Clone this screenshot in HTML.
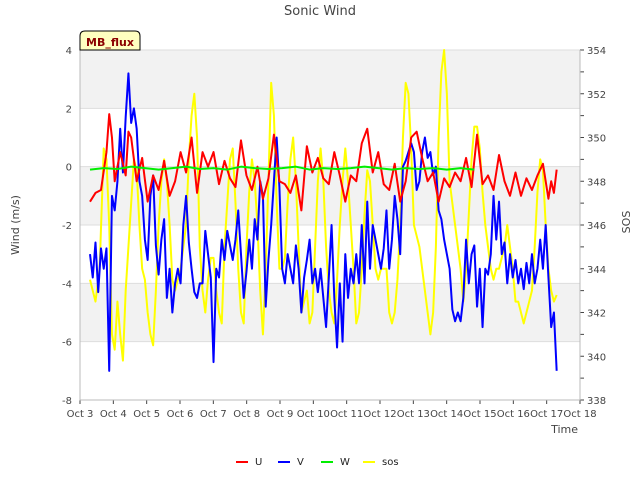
<!DOCTYPE html>
<html><head><meta charset="utf-8"><style>
body{margin:0;background:#fff;font-family:"Liberation Sans","DejaVu Sans",sans-serif}
svg text{font-family:"DejaVu Sans","Liberation Sans",sans-serif}
</style></head><body>
<svg id="c" width="640" height="480">
<rect x="0" y="0" width="640" height="480" fill="#fff"/>
<g id="bands"></g><g id="grid"></g>
<g id="series"></g><g id="axes"></g>
<text x="320" y="15" text-anchor="middle" font-size="13" fill="#444">Sonic Wind</text>
<text transform="translate(19,225) rotate(-90)" text-anchor="middle" font-size="11" fill="#444">Wind (m/s)</text>
<text transform="translate(630,222) rotate(-90)" text-anchor="middle" font-size="11" fill="#444">SOS</text>
<text x="578" y="433" text-anchor="end" font-size="11" fill="#444">Time</text>
<g>
<path d="M80,50 L80,36 Q80,31 85,31 L135,31 Q140,31 140,36 L140,50 Z" fill="#ffffc0" stroke="#000" stroke-width="1"/>
<text x="110" y="46" text-anchor="middle" font-size="11" font-weight="bold" fill="#8b0000">MB_flux</text></g>
<g id="legend"></g>
</svg>
<script>
// times are given in "sample-days" (0.3..17.3) and rescaled onto the real span Oct 3.3..Oct 17.3
const tU=[0.3,0.5,0.7,0.9,1.0,1.1,1.2,1.4,1.6,1.7,1.8,2.0,2.2,2.4,2.6,2.8,3.0,3.2,3.4,3.6,3.8,4.0,4.2,4.4,4.6,4.8,5.0,5.2,5.4,5.6,5.8,6.0,6.2,6.4,6.6,6.8,7.0,7.2,7.4,7.6,7.8,8.0,8.2,8.4,8.6,8.8,9.0,9.2,9.4,9.6,9.8,10.0,10.2,10.4,10.6,10.8,11.0,11.2,11.4,11.6,11.8,12.0,12.2,12.4,12.6,12.8,13.0,13.2,13.4,13.6,13.8,14.0,14.2,14.4,14.6,14.8,15.0,15.2,15.4,15.6,15.8,16.0,16.2,16.4,16.6,16.8,17.0,17.1,17.2,17.3];
const U=[-1.2,-0.9,-0.8,0.5,1.8,1.0,-0.5,0.5,-0.3,1.2,1.0,-0.5,0.3,-1.2,-0.3,-0.8,0.2,-1.0,-0.5,0.5,-0.2,1.0,-0.9,0.5,0.0,0.5,-0.6,0.2,-0.4,-0.7,0.9,-0.3,-0.8,0.0,-1.1,-0.4,1.1,-0.5,-0.6,-0.9,-0.3,-1.5,0.7,-0.2,0.3,-0.4,-0.6,0.5,-0.3,-1.2,-0.3,-0.5,0.8,1.3,-0.2,0.5,-0.6,-0.8,0.1,-1.2,-0.5,1.0,1.2,0.3,-0.5,-0.2,-1.2,-0.4,-0.7,-0.2,-0.5,0.3,-0.7,1.1,-0.6,-0.3,-0.8,0.4,-0.5,-1.0,-0.2,-1.0,-0.4,-0.8,-0.3,0.1,-1.1,-0.5,-0.9,-0.1];
const V=[-3.0,-3.8,-2.6,-4.3,-2.8,-3.5,-2.8,-7.0,-1.0,-1.5,
-0.5,1.3,-0.2,1.7,3.2,1.5,2.0,1.3,-0.5,-1.0,
-2.5,-3.2,-1.0,-0.3,-2.7,-3.7,-2.5,-1.8,-4.5,-3.5,
-5.0,-4.0,-3.5,-4.0,-2.0,-1.0,-2.6,-3.5,-4.3,-4.5,
-4.0,-4.0,-2.2,-3.0,-3.8,-6.7,-3.5,-3.8,-2.5,-3.2,
-2.2,-2.7,-3.2,-2.5,-1.5,-3.0,-4.5,-3.6,-2.5,-3.5,
-1.8,-2.5,-0.5,-1.0,-4.8,-3.2,-2.0,-0.5,1.0,-0.7,
-3.5,-4.0,-3.0,-3.5,-4.0,-2.7,-3.5,-5.0,-3.8,-3.2,
-2.5,-4.0,-3.5,-4.3,-3.5,-4.5,-5.5,-3.8,-2.0,-4.5,
-6.2,-4.0,-6.0,-3.0,-4.5,-3.5,-4.0,-3.0,-4.0,-2.0,
-4.0,-1.2,-3.5,-2.0,-2.5,-3.0,-3.5,-2.8,-1.5,-3.5,
-2.5,-1.0,-1.8,-3.0,0.0,0.2,0.5,0.8,0.5,-0.8,
-0.5,0.5,1.0,0.3,0.5,-0.3,0.0,-1.5,-1.8,-2.5,
-3.0,-3.5,-4.9,-5.3,-5.0,-5.3,-4.5,-2.5,-4.0,-3.0,
-2.7,-4.8,-3.5,-5.5,-3.5,-3.7,-3.0,-1.0,-2.5,-1.2,
-3.0,-2.6,-4.0,-3.0,-3.8,-3.2,-4.0,-3.5,-4.2,-3.3,
-4.0,-3.0,-4.0,-3.5,-2.5,-3.5,-2.0,-3.8,-5.5,-5.0,-7.0];
const tV=V.map((_,i)=>0.3+i*0.1);
const SOS=[343.5,342.5,344,349.5,349,
346,341,340.3,342.5,341,339.8,343,345,347,349,
348.5,346,344,343.5,342,341,340.5,343,346,348,
349,348,346,343.5,343,343.5,344,345,346,349,
351,352,350,345,343,342,343.5,344.5,344.5,343,
342,341.5,345,347,349,349.5,347,344,342,341.5,
345,347.5,349,348,346,343,341,344,348,352.5,
351,347,344,344,344.5,347,349,350,348,345,
342,342.5,343,341.5,342,345,348,349.5,348,345,
343,342,341.5,343.5,346,348,349.5,348,346,344,
341.5,342,344,346.5,348.5,348,346,344,343.5,344,
344,344,342,341.5,342,343.5,346,350,352.5,352,
349.5,346,345.5,345,344,343,342,341,342,345,
350,353,354,352,348,347,346,345,344,342.5,
344,346.5,349,350.5,350.5,349.5,347.5,346,345,344,
343.5,344,344,344.5,345,346,345,344,342.5,342.5,
342,341.5,342,342.5,343,345,347.5,349,348.5,346,
344,343,342.5,342.8];
const tS=[0.3,0.5,0.65,0.8,0.9].concat(SOS.slice(5).map((_,i)=>1.0+i*0.1));
const W=[-0.1,-0.05,-0.08,0.0,-0.05,-0.1,-0.05,0.0,-0.08,-0.05,-0.1,0.0,-0.05,-0.08,-0.05,0.0,-0.1,-0.05,-0.08,-0.05,0.0,-0.05,-0.1,-0.05,-0.08,-0.05,-0.1,-0.05,-0.1];
const tW=W.map((_,i)=>0.3+i*0.5);
const xTicks=["Oct 3","Oct 4","Oct 5","Oct 6","Oct 7","Oct 8","Oct 9","Oct 10","Oct 11","Oct 12","Oct 13","Oct 14","Oct 15","Oct 16","Oct 17","Oct 18"];
const yTicks=[-8,-6,-4,-2,0,2,4];
const y2Ticks=[338,340,342,344,346,348,350,352,354];

const L=80,R=580,T=50,B=400,NS="http://www.w3.org/2000/svg";
const day=t=>0.3+(t-0.3)*14/17;
const xs=d=>L+d*(R-L)/15, ys=v=>T+(4-v)*(B-T)/12, ys2=v=>T+(354-v)*(B-T)/16;
function mk(tag,at,parent){const e=document.createElementNS(NS,tag);for(const k in at)e.setAttribute(k,at[k]);document.getElementById(parent).appendChild(e);return e;}
for(let i=0;i<6;i++){if(i%2===0){const r=mk('rect',{x:L,y:ys(4-2*i),width:R-L,height:ys(2)-ys(4),fill:'#f2f2f2'},'bands');

}}
yTicks.forEach(v=>{const l=mk('line',{x1:L,x2:R,y1:ys(v),y2:ys(v),stroke:'#ddd'},'grid');


const t=mk('text',{x:L-8,y:ys(v)+4,'text-anchor':'end','font-size':10,fill:'#444'},'axes');t.textContent=v;

});
for(let v=338;v<=354;v++){const l=mk('line',{x1:R,x2:R+4,y1:ys2(v),y2:ys2(v),stroke:'#444'},'axes');

}
y2Ticks.forEach(v=>{const t=mk('text',{x:R+7,y:ys2(v)+4,'font-size':10,fill:'#444'},'axes');t.textContent=v;

});
xTicks.forEach((s,i)=>{const l=mk('line',{x1:xs(i),x2:xs(i),y1:B,y2:B+4,stroke:'#444'},'axes');


const t=mk('text',{x:xs(i),y:B+17,'text-anchor':'middle','font-size':10,fill:'#444'},'axes');t.textContent=s;

});
const ax=mk('path',{d:`M${L},${T}V${B}H${R}V${T}`,fill:'none',stroke:'#bbb'},'axes');


function line(t,v,f,col,name){const p=mk('polyline',{points:t.map((d,i)=>xs(day(d))+','+f(v[i])).join(' '),fill:'none',stroke:col,'stroke-width':2,'stroke-linejoin':'round'},'series');

}
line(tS,SOS,ys2,'#ffff00','sos-line');
line(tV,V,ys,'#0000ff','v-line');
line(tU,U,ys,'#ff0000','u-line');
line(tW,W,ys,'#00ee00','w-line');
[["U","#ff0000",236],["V","#0000ff",278],["W","#00ee00",321],["sos","#ffff00",363]].forEach(([n,c,x])=>{
const l=mk('line',{x1:x,x2:x+12,y1:462,y2:462,stroke:c,'stroke-width':2},'legend');


const t=mk('text',{x:x+19,y:465,'font-size':10,fill:'#222'},'legend');t.textContent=n;

});
</script>
</body></html>
